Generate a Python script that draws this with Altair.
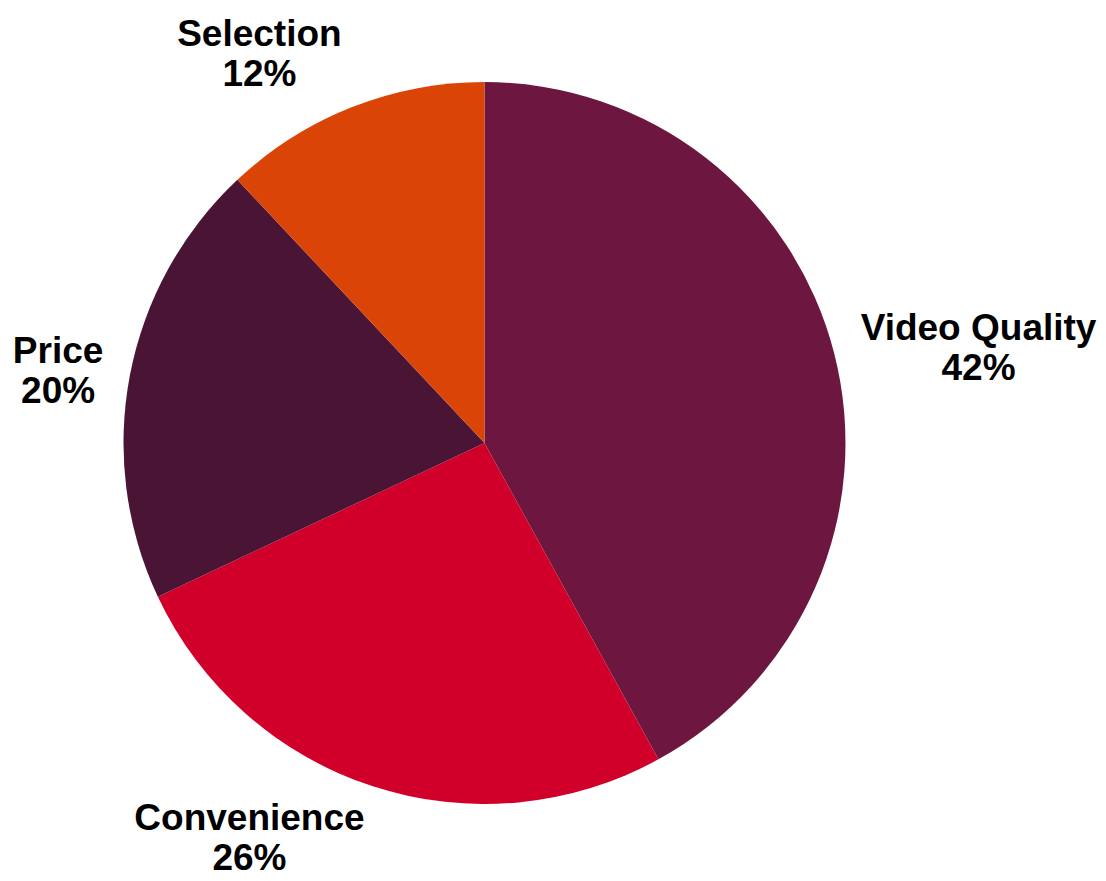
import altair as alt
import pandas as pd

categories = ["Video Quality", "Convenience", "Price", "Selection"]
values = [42, 26, 20, 12]
colors = ["#6D1740", "#D1002A", "#4A1535", "#DA4407"]

FS = 37
LH = 40

# Arial/Liberation Sans Bold advance widths (1/1000 em) used to estimate label widths
CHAR_W = {" ": 278, "%": 889, "C": 722, "P": 667, "Q": 778, "S": 667, "V": 667,
          "a": 556, "c": 556, "d": 611, "e": 556, "i": 278, "l": 278, "n": 611,
          "o": 611, "r": 389, "t": 333, "u": 611, "v": 556, "y": 556}


def text_w(s):
    return sum(CHAR_W.get(ch, 556) for ch in s) * FS / 1000.0


df = pd.DataFrame({"category": categories, "value": values, "idx": list(range(len(categories)))})
df["tw"] = [max(text_w(c), text_w(f"{v}%")) for c, v in zip(categories, values)]

CX, CY = 476.5, 435
R = 361
RX, RY = 388, 377
HH = 37

base = alt.Chart(df)

pie = base.mark_arc(outerRadius=R).encode(
    theta=alt.Theta("value:Q", stack=True, scale=alt.Scale(domain=[0, 100])),
    color=alt.Color("category:N", scale=alt.Scale(domain=categories, range=colors), legend=None),
    order=alt.Order("idx:Q"),
    x=alt.value(CX),
    y=alt.value(CY),
)

labels = base.transform_window(
    cum="sum(value)", sort=[alt.SortField("idx")], frame=[None, 0]
).transform_calculate(
    ang="(datum.cum - datum.value / 2) / 100 * 2 * PI",
    label="datum.category + '\\n' + datum.value + '%'",
    hw="datum.tw / 2",
).transform_calculate(
    px=f"{CX} + {RX} * sin(datum.ang) + (sin(datum.ang) > 0.3 ? datum.hw : (sin(datum.ang) < -0.3 ? -datum.hw : 0))",
    py=f"{CY} - {RY} * cos(datum.ang) - (cos(datum.ang) > 0.3 ? {HH} : (cos(datum.ang) < -0.3 ? -{HH} : 0)) - {LH / 2}",
).mark_text(
    align="center",
    baseline="middle",
    font="Liberation Sans",
    fontWeight="bold",
    fontSize=FS,
    lineHeight=LH,
    lineBreak="\n",
    color="#000000",
).encode(
    x=alt.X("px:Q", scale=None, axis=None),
    y=alt.Y("py:Q", scale=None, axis=None),
    text="label:N",
)

chart = alt.layer(pie, labels).properties(
    width=1090, height=865, padding=0, autosize="none", background="white"
).configure_view(stroke=None)

chart.save("out.html", embed_options={"renderer": "svg", "actions": False})
